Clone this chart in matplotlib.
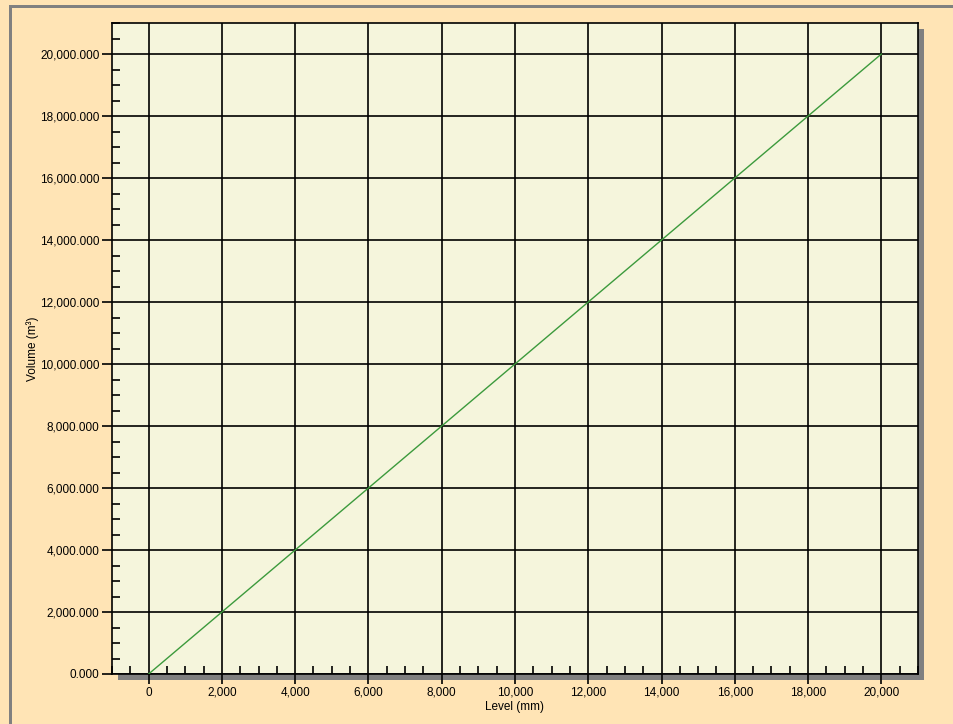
import matplotlib
matplotlib.use("Agg")
import matplotlib.pyplot as plt
from matplotlib.patches import Rectangle
from matplotlib.ticker import FuncFormatter, MultipleLocator

plt.rcParams['font.family'] = ['Liberation Sans', 'DejaVu Sans']

# Data
level_mm = [0, 20000]
volume_m3 = [0, 20000]

W, H = 954, 724
fig = plt.figure(figsize=(W / 100, H / 100), dpi=100)
fig.patch.set_facecolor('#FFE4B5')

# axes placement in pixels
x0, x1 = 112, 918
y0, y1 = 23, 674
ax = fig.add_axes([x0 / W, 1 - y1 / H, (x1 - x0) / W, (y1 - y0) / H])
ax.set_facecolor('#F5F5DC')
ax.set_zorder(5)

# gray frame lines top and left
fig.patches.append(Rectangle((9 / W, 0), 3 / W, 1 - 5 / H, transform=fig.transFigure,
                             facecolor='#808080', edgecolor='none', zorder=0))
fig.patches.append(Rectangle((9 / W, 1 - 8 / H), 1 - 9 / W, 3 / H, transform=fig.transFigure,
                             facecolor='#808080', edgecolor='none', zorder=0))
# shadow
fig.patches.append(Rectangle(((x0 + 6) / W, 1 - (y1 + 6) / H), (x1 - x0) / W, (y1 - y0) / H,
                             transform=fig.transFigure, facecolor='#808080', edgecolor='none', zorder=0))

ax.plot(level_mm, volume_m3, color='#3C9A3C', linewidth=1.0, zorder=3)

ax.set_xlim(-1000, 21000)
ax.set_ylim(0, 21000)
ax.xaxis.set_major_locator(MultipleLocator(2000))
ax.xaxis.set_minor_locator(MultipleLocator(500))
ax.yaxis.set_major_locator(MultipleLocator(2000))
ax.yaxis.set_minor_locator(MultipleLocator(500))
ax.xaxis.set_major_formatter(FuncFormatter(lambda v, p: f"{v:,.0f}"))
ax.yaxis.set_major_formatter(FuncFormatter(lambda v, p: f"{v:,.3f}"))

ax.grid(True, which='major', color='#000000', linewidth=1.2, zorder=1)
ax.set_axisbelow(True)
for s in ax.spines.values():
    s.set_color('#000000')
    s.set_linewidth(1.2)

ax.tick_params(axis='both', which='major', direction='out', length=7, width=1.2,
               labelsize=8.5, colors='#000000', pad=2)
ax.tick_params(axis='both', which='minor', direction='in', length=6, width=1.2, colors='#000000')

ax.set_xlabel('Level (mm)', fontsize=8.5, labelpad=2)
ax.set_ylabel('Volume (m³)', fontsize=8.5, labelpad=1)

fig.savefig('out.png', dpi=100, facecolor=fig.get_facecolor())
